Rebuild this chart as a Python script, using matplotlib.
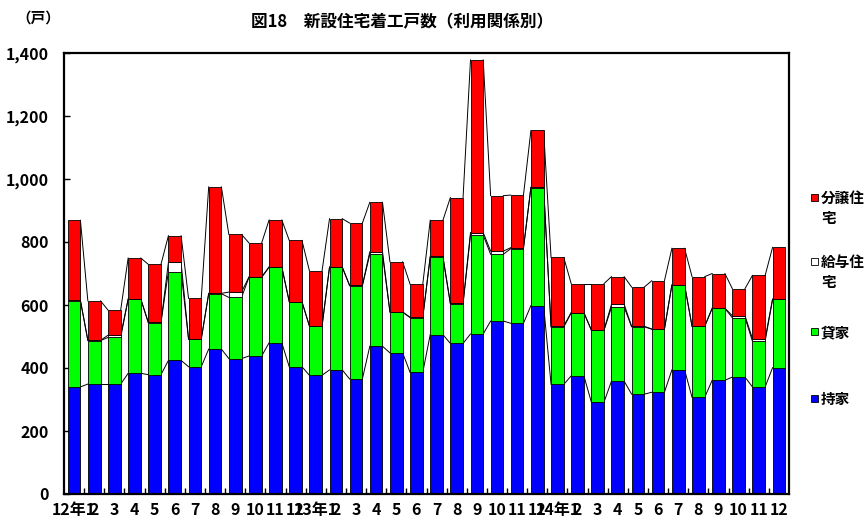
import matplotlib
matplotlib.use("Agg")
import matplotlib.pyplot as plt
import numpy as np
from matplotlib.patches import Rectangle

plt.rcParams["font.family"] = ["Noto Sans CJK JP", "DejaVu Sans"]
plt.rcParams["font.weight"] = "bold"
NARROW = ["Liberation Sans Narrow", "Noto Sans CJK JP", "DejaVu Sans"]

months = ["12年1", "2", "3", "4", "5", "6", "7", "8", "9", "10", "11", "12",
          "13年1", "2", "3", "4", "5", "6", "7", "8", "9", "10", "11", "12",
          "14年1", "2", "3", "4", "5", "6", "7", "8", "9", "10", "11", "12"]

# 持家 (owner-occupied)
owner = [340, 349, 349, 383, 379, 424, 404, 460, 430, 438, 480, 404,
         377, 394, 365, 469, 448, 386, 506, 478, 508, 549, 542, 598,
         348, 375, 292, 358, 317, 323, 394, 307, 361, 371, 340, 401]
# 貸家 (rental)
rental = [274, 138, 148, 235, 165, 282, 87, 176, 194, 250, 240, 206,
          156, 326, 296, 292, 129, 174, 245, 126, 314, 212, 237, 375,
          182, 200, 228, 235, 214, 200, 269, 225, 228, 189, 145, 217]
# 給与住宅 (company housing)
company = [1, 1, 7, 1, 1, 29, 1, 1, 17, 1, 1, 1,
           1, 1, 1, 8, 1, 1, 4, 1, 8, 10, 3, 1,
           3, 1, 1, 9, 1, 1, 1, 1, 1, 6, 8, 1]
# 分譲住宅 (for sale)
sale = [254, 125, 80, 130, 184, 85, 129, 338, 183, 108, 149, 194,
        175, 153, 198, 157, 159, 105, 114, 336, 548, 176, 167, 180,
        218, 92, 147, 88, 125, 153, 116, 157, 110, 86, 201, 164]

series = [("持家", owner, "#0000ff"),
          ("貸家", rental, "#00ff00"),
          ("給与住宅", company, "#ffffff"),
          ("分譲住宅", sale, "#ff0000")]
legend_labels = {"分譲住宅": "分譲住\n宅", "給与住宅": "給与住\n宅", "貸家": "貸家", "持家": "持家"}

fig = plt.figure(figsize=(8.68, 5.19), dpi=100)
ax = fig.add_axes([64 / 868, 1 - 494 / 519, (789 - 64) / 868, (494 - 53) / 519])

x = np.arange(len(months))
w = 0.63
bottom = np.zeros(len(months))
for name, vals, color in series:
    vals = np.asarray(vals, dtype=float)
    ax.bar(x, vals, w, bottom=bottom, color=color, edgecolor="black", linewidth=0.6, zorder=2)
    top = bottom + vals
    # series lines between neighbouring bars
    for i in range(len(x) - 1):
        ax.plot([x[i] + w / 2, x[i + 1] - w / 2], [top[i], top[i + 1]],
                color="black", linewidth=0.7, zorder=1)
    bottom = top

ax.set_xlim(-0.5, len(months) - 0.5)
ax.set_ylim(0, 1400)
ax.set_yticks(np.arange(0, 1401, 200))
ax.set_yticklabels([f"{v:,}" for v in range(0, 1401, 200)],
                   fontsize=11.5, fontweight="bold", family=NARROW)
ax.set_xticks(x)
ax.set_xticklabels(months, fontsize=11.5, fontweight="bold", family=NARROW)
ax.set_xticks(np.arange(0.5, len(months) - 0.5), minor=True)
ax.tick_params(axis="x", which="major", length=0, pad=6)
ax.tick_params(axis="x", which="minor", direction="in", length=4, width=1)
ax.tick_params(axis="y", direction="in", length=4, width=1, pad=11)
for s in ax.spines.values():
    s.set_linewidth(1.6)

fig.text(402 / 868, 1 - 22 / 519, "図18　新設住宅着工戸数（利用関係別）",
         ha="center", va="center", fontsize=12, fontweight="bold")
fig.text(16 / 868, 1 - 18 / 519, "（戸）", ha="left", va="center", fontsize=10.5, fontweight="bold")

# legend on the right, top to bottom
leg_y = [197, 261, 331, 398]
for (name, vals, color), yy in zip(series[::-1], leg_y):
    fig.add_artist(Rectangle((811 / 868, 1 - (yy + 4) / 519), 7 / 868, 7 / 519,
                             transform=fig.transFigure, facecolor=color,
                             edgecolor="black", linewidth=0.6))
    fig.text(821 / 868, 1 - (yy - 7) / 519, legend_labels[name], ha="left", va="top",
             fontsize=10.5, fontweight="bold", linespacing=1.3)

fig.savefig("out.png", dpi=100)
